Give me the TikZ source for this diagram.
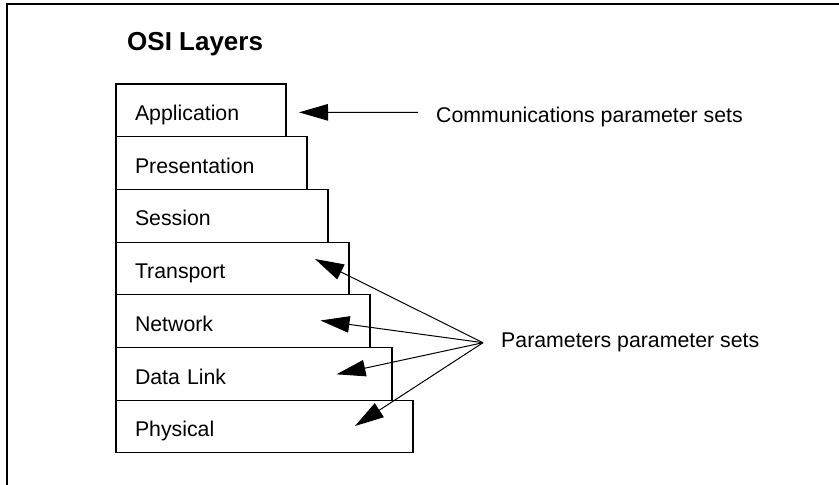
\documentclass[tikz,border=0pt]{standalone}
\usepackage{fontspec}
\setmainfont{Liberation Sans}
\usetikzlibrary{arrows.meta,calc}
\begin{document}
\begin{tikzpicture}[x=1pt,y=-1pt,
  every node/.style={font=\fontsize{21.3}{25}\selectfont},
  layer/.style={draw,line width=1.1pt,anchor=north west,minimum height=52.7pt,
    inner xsep=19pt,inner ysep=0pt,outer sep=0pt,align=left,
    text height=20.4pt,text depth=0pt},
  lbl/.style={anchor=west,inner xsep=18pt,inner ysep=0pt},
  arr/.style={line width=1pt,-{Triangle[length=29pt,width=16.5pt]}}]
\useasboundingbox (0,0) rectangle (839,485);
\draw[line width=1.3pt] (7,485) -- (7,4) -- (839,4);
\node[anchor=west,inner sep=0pt,font=\fontsize{26}{30}\selectfont\bfseries] (title) at (127,44) {OSI Layers};
\node[layer,text width=132pt] (app) at (116,84) {Application};
\node[layer,text width=153pt] (pres) at (app.south west) {Presentation};
\node[layer,text width=174pt] (sess) at (pres.south west) {Session};
\node[layer,text width=195pt] (trans) at (sess.south west) {Transport};
\node[layer,text width=216pt] (net) at (trans.south west) {Network};
\node[layer,text width=238pt] (dl) at (net.south west) {Data Link};
\node[layer,text width=259pt] (phys) at (dl.south west) {Physical};
\node[lbl,text height=20.4pt,text depth=0pt] (comm) at (418,112.3) {Communications parameter sets};
\node[lbl] (param) at (483,342.7) {Parameters parameter sets};
\coordinate (tapp) at ($(app.east)+(13,2)$);
\coordinate (ttrans) at (315,259);
\coordinate (tnet) at (320.5,320.5);
\coordinate (tdl) at (336.5,374.3);
\coordinate (tphys) at (355,426);
\draw[arr] (comm.west) -- (tapp);
\draw[arr] (param.west) -- (ttrans);
\draw[arr] (param.west) -- (tnet);
\draw[arr] (param.west) -- (tdl);
\draw[arr] (param.west) -- (tphys);
\end{tikzpicture}
\end{document}
